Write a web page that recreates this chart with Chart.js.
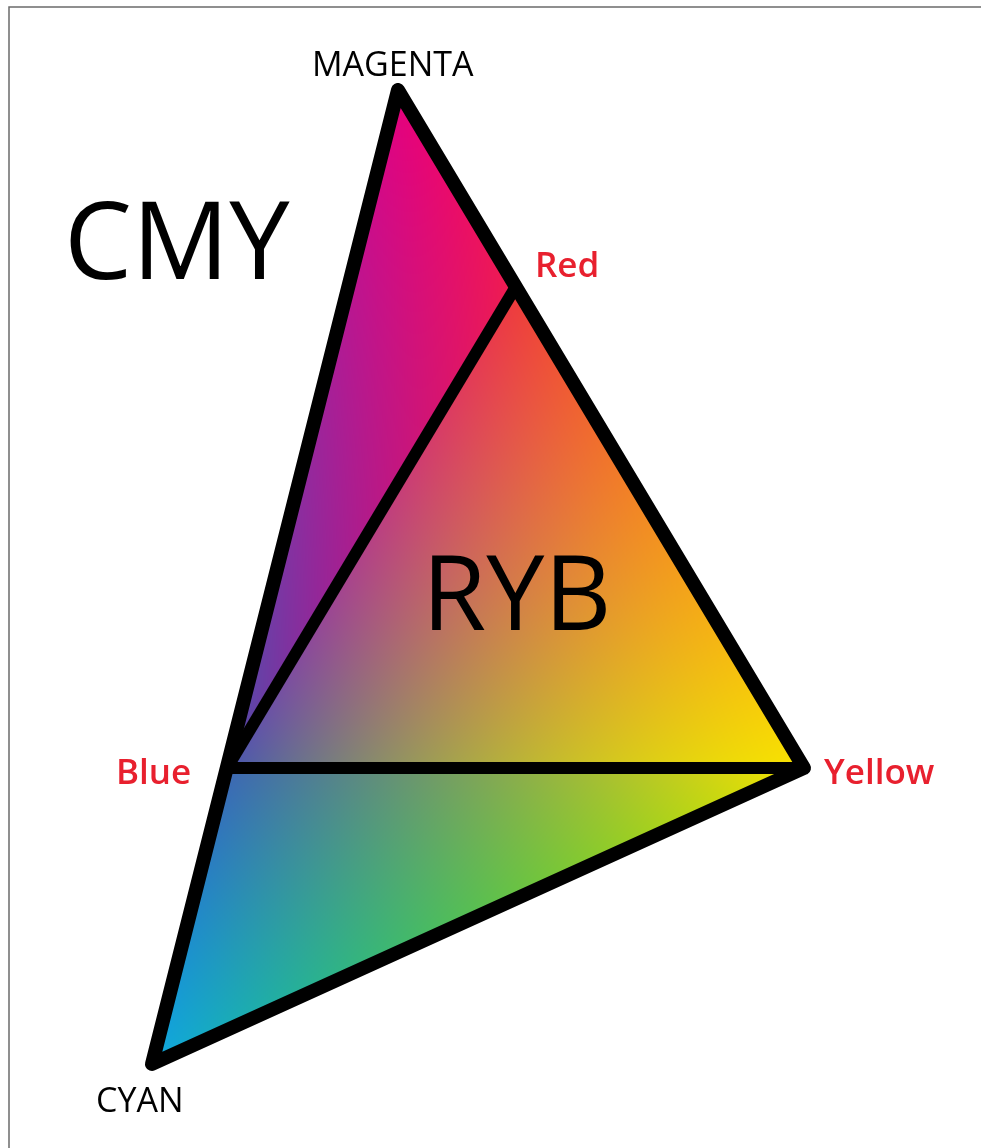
<!DOCTYPE html>
<html>
<head>
<meta charset="utf-8">
<title>CMY / RYB</title>
<script src="https://cdn.jsdelivr.net/npm/chart.js@4.4.1/dist/chart.umd.min.js"></script>
<style>
	html, body { margin: 0; padding: 0; background: #fff; }
	#chart { display: block; }
</style>
</head>
<body>
<canvas id="chart" width="981" height="1148"></canvas>
<script>
// Pontos do triângulo (em pixels da imagem original)
const pointNames = ["MAGENTA", "Red", "Yellow", "Blue", "CYAN"];
const pointX = [398, 515, 804, 227, 152];
const pointY = [90, 288, 768, 768, 1064];
const titles = ["CMY", "RYB"];

// Sub-triângulos: índices em pointX/pointY
const triangles = [
	[0, 1, 3], // Magenta - Red - Blue
	[1, 2, 3], // Red - Yellow - Blue
	[3, 2, 4] // Blue - Yellow - Cyan
];

// Linhas pretas
const outline = [0, 2, 4, 0];
const innerLines = [
	[3, 1],
	[3, 2]
];

// Cores dos vértices e dos pontos médios das arestas
const meshColors = [
	{ v: ["#e6007e", "#ef1e4e", "#4c50aa"], m: ["#eb0c68", "#b41a88", "#9a269c"] },
	{ v: ["#ee3a3c", "#f9e300", "#4858b0"], m: ["#f39020", "#b8b438", "#b83e84"] },
	{ v: ["#3d66b4", "#f9e300", "#10a8e0"], m: ["#8cac4c", "#58c050", "#2088cc"] }
];

const RED_TEXT = "#e8202e";
const FONT = "'Open Sans', 'DejaVu Sans', sans-serif";

function hexToRgb(hex) {
	const n = parseInt(hex.slice(1), 16);
	return [(n >> 16) & 255, (n >> 8) & 255, n & 255];
}

function toPoints(idx) {
	return idx.map((i) => ({ x: pointX[i], y: pointY[i] }));
}

// Moldura cinza (topo e esquerda)
const framePlugin = {
	id: "frame",
	beforeDraw(chart) {
		const c = chart.ctx;
		c.save();
		c.fillStyle = "#fff";
		c.fillRect(0, 0, chart.width, chart.height);
		c.strokeStyle = "#6b6b6b";
		c.lineWidth = 1.5;
		c.beginPath();
		c.moveTo(chart.width, 7);
		c.lineTo(9, 7);
		c.lineTo(9, chart.height);
		c.stroke();
		c.restore();
	}
};

// Preenchimento em degradê (interpolação quadrática por triângulo)
const meshPlugin = {
	id: "mesh",
	beforeDatasetsDraw(chart) {
		const xs = chart.scales.x;
		const ys = chart.scales.y;
		const px = pointX.map((v) => xs.getPixelForValue(v));
		const py = pointY.map((v) => ys.getPixelForValue(v));
		const w = chart.width;
		const h = chart.height;
		const off = document.createElement("canvas");
		off.width = w;
		off.height = h;
		const octx = off.getContext("2d");
		const img = octx.createImageData(w, h);
		const d = img.data;

		triangles.forEach((tri, t) => {
			const [a, b, c] = tri;
			const x0 = px[a], y0 = py[a];
			const x1 = px[b], y1 = py[b];
			const x2 = px[c], y2 = py[c];
			const den = (y1 - y2) * (x0 - x2) + (x2 - x1) * (y0 - y2);
			const v = meshColors[t].v.map(hexToRgb);
			const m = meshColors[t].m.map(hexToRgb);
			const minX = Math.max(0, Math.floor(Math.min(x0, x1, x2)) - 1);
			const maxX = Math.min(w - 1, Math.ceil(Math.max(x0, x1, x2)) + 1);
			const minY = Math.max(0, Math.floor(Math.min(y0, y1, y2)) - 1);
			const maxY = Math.min(h - 1, Math.ceil(Math.max(y0, y1, y2)) + 1);

			for (let y = minY; y <= maxY; y++) {
				const Y = y + 0.5;
				for (let x = minX; x <= maxX; x++) {
					const X = x + 0.5;
					const l0 = ((y1 - y2) * (X - x2) + (x2 - x1) * (Y - y2)) / den;
					const l1 = ((y2 - y0) * (X - x2) + (x0 - x2) * (Y - y2)) / den;
					const l2 = 1 - l0 - l1;
					if (l0 < -0.004 || l1 < -0.004 || l2 < -0.004) continue;
					const k0 = l0 * (2 * l0 - 1);
					const k1 = l1 * (2 * l1 - 1);
					const k2 = l2 * (2 * l2 - 1);
					const k01 = 4 * l0 * l1;
					const k12 = 4 * l1 * l2;
					const k20 = 4 * l2 * l0;
					const i = (y * w + x) * 4;
					for (let ch = 0; ch < 3; ch++) {
						const val =
							k0 * v[0][ch] + k1 * v[1][ch] + k2 * v[2][ch] +
							k01 * m[0][ch] + k12 * m[1][ch] + k20 * m[2][ch];
						d[i + ch] = Math.max(0, Math.min(255, Math.round(val)));
					}
					d[i + 3] = 255;
				}
			}
		});

		octx.putImageData(img, 0, 0);
		chart.ctx.drawImage(off, 0, 0);
	}
};

// Textos
const textPlugin = {
	id: "texts",
	afterDatasetsDraw(chart) {
		const c = chart.ctx;
		const items = [
			{ text: pointNames[0], x: 312, y: 76, font: "400 34px " + FONT, color: "#000" },
			{ text: pointNames[1], x: 535, y: 277, font: "600 35px " + FONT, color: RED_TEXT },
			{ text: pointNames[2], x: 824, y: 784, font: "600 35px " + FONT, color: RED_TEXT },
			{ text: pointNames[3], x: 116, y: 784, font: "600 35px " + FONT, color: RED_TEXT },
			{ text: pointNames[4], x: 96, y: 1112, font: "400 34px " + FONT, color: "#000" },
			{ text: titles[0], x: 64, y: 279, font: "400 108px " + FONT, color: "#000" },
			{ text: titles[1], x: 422, y: 630, font: "400 104px " + FONT, color: "#000" }
		];
		c.save();
		c.textAlign = "left";
		c.textBaseline = "alphabetic";
		items.forEach((it) => {
			c.font = it.font;
			c.fillStyle = it.color;
			c.fillText(it.text, it.x, it.y);
		});
		c.restore();
	}
};

const lineStyle = {
	showLine: true,
	borderColor: "#000",
	borderWidth: 14,
	borderJoinStyle: "round",
	borderCapStyle: "round",
	pointRadius: 0,
	pointHoverRadius: 0,
	tension: 0,
	fill: false,
	clip: false
};

const datasets = [
	Object.assign({ data: toPoints(outline) }, lineStyle),
	...innerLines.map((ln) =>
		Object.assign({ data: toPoints(ln) }, lineStyle, { borderWidth: 12 })
	)
];

new Chart(document.getElementById("chart").getContext("2d"), {
	type: "scatter",
	data: { datasets },
	options: {
		responsive: false,
		animation: false,
		events: [],
		layout: { padding: 0 },
		scales: {
			x: { type: "linear", min: 0, max: 981, display: false },
			y: { type: "linear", min: 0, max: 1148, reverse: true, display: false }
		},
		plugins: {
			legend: { display: false },
			tooltip: { enabled: false }
		}
	},
	plugins: [framePlugin, meshPlugin, textPlugin]
});
</script>
</body>
</html>
